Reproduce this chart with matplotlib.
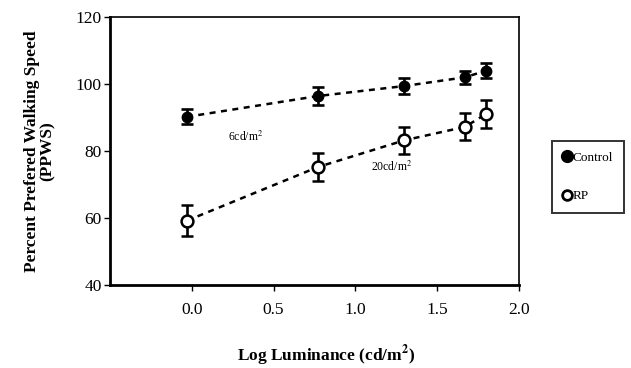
import matplotlib
matplotlib.use('Agg')
import matplotlib.pyplot as plt
from matplotlib.lines import Line2D

plt.rcParams['font.family'] = ['Liberation Serif', 'DejaVu Serif']
plt.rcParams['mathtext.fontset'] = 'stix'

# data
log_lum = [-0.03, 0.77, 1.30, 1.67, 1.80]
control = [90.2, 96.4, 99.4, 102.0, 104.0]
control_err = [2.2, 2.6, 2.3, 2.0, 2.3]
rp = [59.2, 75.2, 83.2, 87.2, 91.1]
rp_err = [4.6, 4.2, 4.0, 4.0, 4.1]

fig = plt.figure(figsize=(6.31, 3.68), dpi=100)
ax = fig.add_axes([110/631, 1-285/368, (519-110)/631, (285-17)/368])

dash = (0, (2.4, 2.2))
ax.plot(log_lum, control, color='black', lw=1.8, linestyle=dash, zorder=1)
ax.plot(log_lum, rp, color='black', lw=1.8, linestyle=dash, zorder=1)

ax.errorbar(log_lum, control, yerr=control_err, fmt='o', color='black',
            ms=7.5, mfc='black', mec='black', ecolor='black',
            elinewidth=1.9, capsize=4.6, capthick=1.9, zorder=3)
ax.errorbar(log_lum, rp, yerr=rp_err, fmt='o', color='black',
            ms=8.5, mfc='white', mec='black', mew=1.8, ecolor='black',
            elinewidth=1.9, capsize=4.6, capthick=1.9, zorder=3)

ax.text(0.33, 84.2, '6cd/m$^2$', fontsize=8.5, ha='center', va='center')
ax.text(1.22, 75.3, '20cd/m$^2$', fontsize=8.5, ha='center', va='center')

ax.set_xlim(-0.5, 2.0)
ax.set_ylim(40, 120)
ax.set_xticks([0.0, 0.5, 1.0, 1.5, 2.0])
ax.set_xticklabels(['0.0', '0.5', '1.0', '1.5', '2.0'])
ax.set_yticks([40, 60, 80, 100, 120])

ax.spines['left'].set_linewidth(2.0)
ax.spines['bottom'].set_linewidth(2.0)
ax.spines['top'].set_linewidth(1.2)
ax.spines['right'].set_linewidth(1.2)
ax.tick_params(axis='both', direction='out', length=4, width=1.0,
               labelsize=12.5, pad=8)
ax.tick_params(axis='y', pad=2)

fig.text(326/631, 1-361/368, 'Log Luminance (cd/m$^\\mathbf{2}$)',
         fontsize=12.5, fontweight='bold', ha='center', va='baseline')
ax.set_ylabel('Percent Prefered Walking Speed\n(PPWS)', fontsize=12.5,
              fontweight='bold', labelpad=14, linespacing=1.0)

handles = [
    Line2D([], [], marker='o', ls='none', color='black', ms=8.5, mfc='black'),
    Line2D([], [], marker='o', ls='none', color='black', ms=7, mfc='white',
           mew=2.0),
]
leg = fig.legend(handles, ['Control', 'RP'], loc='center',
                 bbox_to_anchor=(588/631, 1-177/368), frameon=True,
                 fancybox=False, edgecolor='black', fontsize=9.5,
                 handlelength=0.6, handletextpad=0.15, labelspacing=2.0,
                 borderpad=0.8, borderaxespad=0)
leg.get_frame().set_linewidth(1.4)

fig.savefig('out.png', dpi=100, facecolor='white')
